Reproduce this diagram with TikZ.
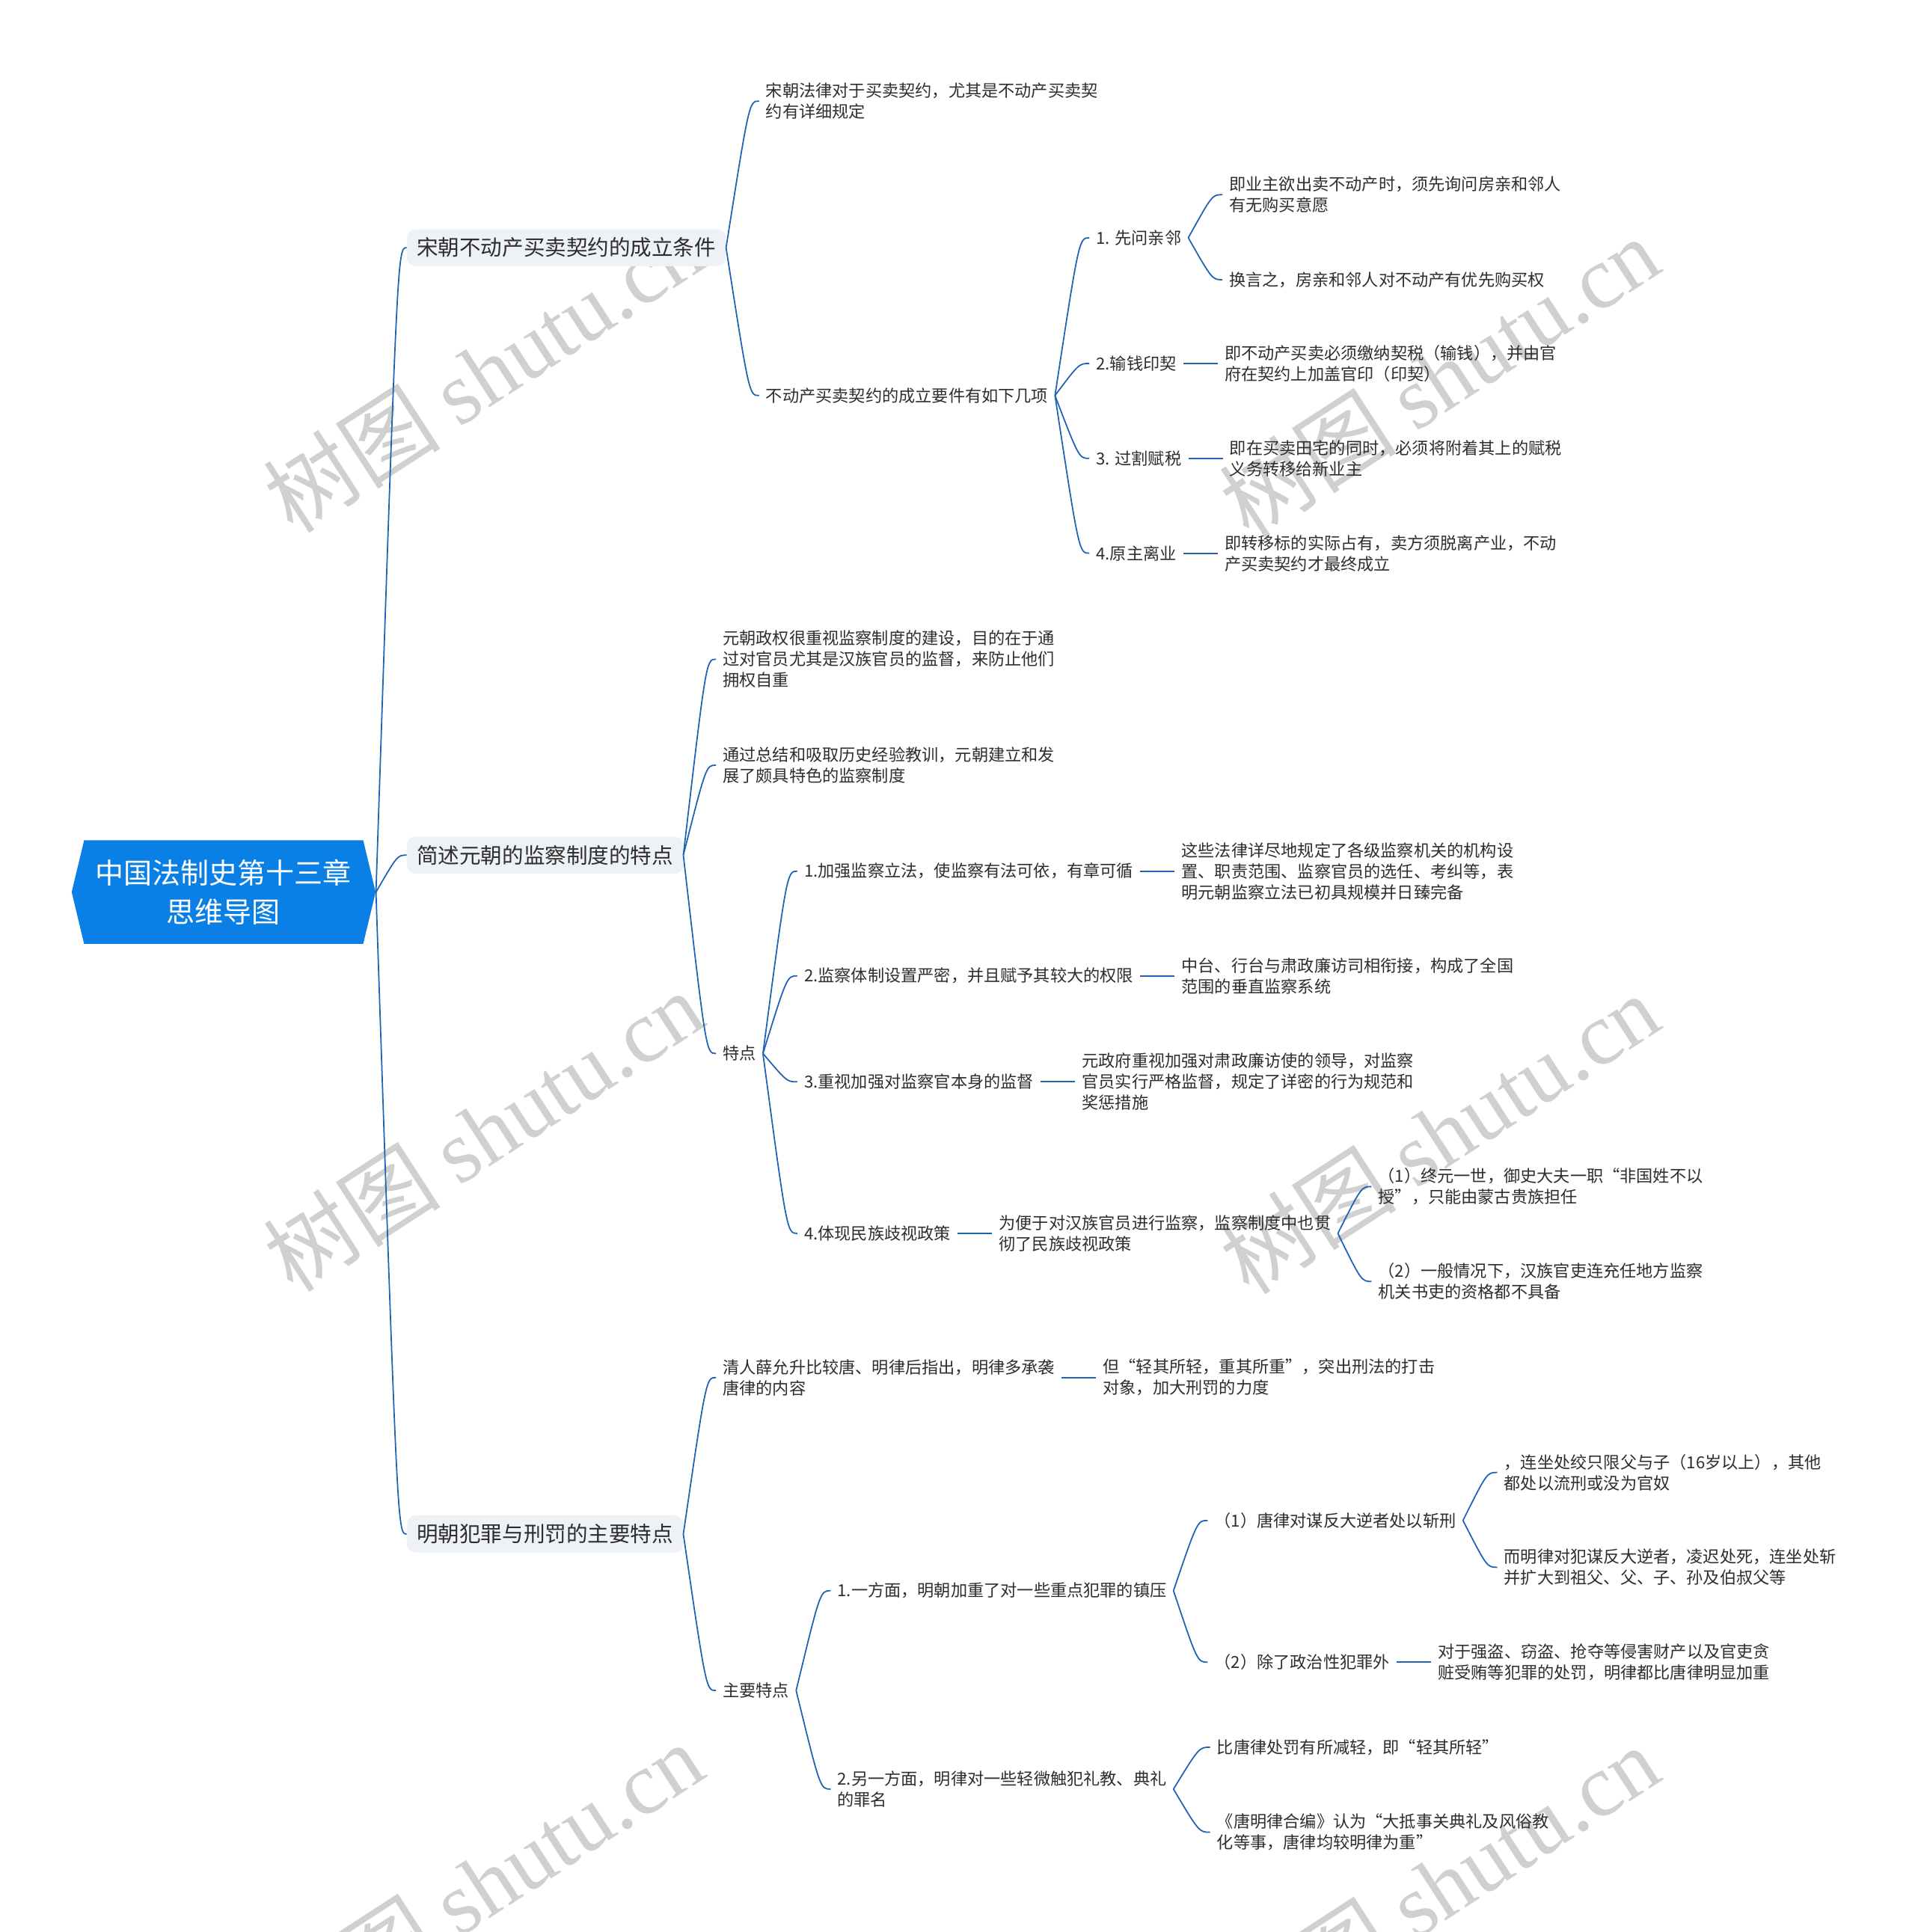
\documentclass[tikz,border=0pt]{standalone}
\usepackage{fontspec}
\setmainfont{Noto Sans CJK SC}
\newfontfamily\wmserif{Liberation Serif}
\usetikzlibrary{positioning,calc,shapes.symbols}
\definecolor{rootblue} {RGB}{ 10,128,230}
\definecolor{topicbg}  {RGB}{238,241,245}
\definecolor{linkblue} {RGB}{ 30, 98,180}
\definecolor{textdark} {RGB}{ 45, 45, 45}
\definecolor{wmgray}   {RGB}{208,208,208}

\begin{document}
\begin{tikzpicture}[
    x=0.75pt, y=-0.75pt,
    rootnode/.style={signal, signal to=east and west, signal pointer angle=153, fill=rootblue, text=white, minimum width=185pt, minimum height=63pt, inner sep=0pt, align=center, font=\fontsize{17.3}{24}\selectfont},
    topic/.style={fill=topicbg, rounded corners=5pt, anchor=west, text=textdark, minimum height=22.5pt, inner xsep=6pt, font=\fontsize{13}{16}\selectfont},
    leaf/.style={anchor=west, align=left, text=textdark, inner xsep=4pt, inner ysep=2pt, font=\fontsize{10.1}{12.75}\selectfont},
    wmark/.style={text=wmgray, rotate=33, font=\fontsize{54}{56}\selectfont},
    link/.style={draw=linkblue, line width=0.8pt},
    branch/.style={to path={let \p1=(\tikztostart), \p2=(\tikztotarget) in .. controls ({\x1+0.7*(\x2-\x1)},\y2) .. (\tikztotarget)}}
]
    \useasboundingbox (0,0) rectangle (1554,1568);

    \node[wmark] (wmA) at (392,302) {树图 {\wmserif shutu.cn}};
    \node[wmark] (wmB) at (1168,306) {树图 {\wmserif shutu.cn}};
    \node[wmark] (wmC) at (392,918) {树图 {\wmserif shutu.cn}};
    \node[wmark] (wmD) at (1168,920) {树图 {\wmserif shutu.cn}};
    \node[wmark] (wmE) at (392,1528) {树图 {\wmserif shutu.cn}};
    \node[wmark] (wmF) at (1168,1530) {树图 {\wmserif shutu.cn}};

    \node[rootnode] (root) at (181.5,724) {中国法制史第十三章\\思维导图};
    \node[topic] (song) at (330,201) {宋朝不动产买卖契约的成立条件};
    \node[topic] (yuan) at (330,694) {简述元朝的监察制度的特点};
    \node[topic] (ming) at (330,1245) {明朝犯罪与刑罚的主要特点};

    \node[leaf] (songlaw) at (616,82) {宋朝法律对于买卖契约，尤其是不动产买卖契\\约有详细规定};
    \node[leaf] (songreq) at (616,321) {不动产买卖契约的成立要件有如下几项};
    \node[leaf] (neighbor) at (884,193) {1. 先问亲邻};
    \node[leaf] (tax) at (884,295) {2.输钱印契};
    \node[leaf] (transfer) at (884,372) {3. 过割赋税};
    \node[leaf] (leave) at (884,449) {4.原主离业};
    \node[leaf] (neighborA) at (992,158) {即业主欲出卖不动产时，须先询问房亲和邻人\\有无购买意愿};
    \node[leaf] (neighborB) at (992,227) {换言之，房亲和邻人对不动产有优先购买权};
    \node[leaf] (taxtxt) [right=21pt of tax] {即不动产买卖必须缴纳契税（输钱），并由官\\府在契约上加盖官印（印契）};
    \node[leaf] (transfertxt) [right=21pt of transfer] {即在买卖田宅的同时，必须将附着其上的赋税\\义务转移给新业主};
    \node[leaf] (leavetxt) [right=21pt of leave] {即转移标的实际占有，卖方须脱离产业，不动\\产买卖契约才最终成立};

    \node[leaf] (yuanaim) at (581,535) {元朝政权很重视监察制度的建设，目的在于通\\过对官员尤其是汉族官员的监督，来防止他们\\拥权自重};
    \node[leaf] (yuanorigin) at (581,621) {通过总结和吸取历史经验教训，元朝建立和发\\展了颇具特色的监察制度};
    \node[leaf] (yuanfeat) at (581,855) {特点};
    \node[leaf] (legis) at (647,707) {1.加强监察立法，使监察有法可依，有章可循};
    \node[leaf] (system) at (647,792) {2.监察体制设置严密，并且赋予其较大的权限};
    \node[leaf] (selfsup) at (647,878) {3.重视加强对监察官本身的监督};
    \node[leaf] (ethnic) at (647,1001) {4.体现民族歧视政策};
    \node[leaf] (legistxt) [right=21pt of legis] {这些法律详尽地规定了各级监察机关的机构设\\置、职责范围、监察官员的选任、考纠等，表\\明元朝监察立法已初具规模并日臻完备};
    \node[leaf] (systemtxt) [right=21pt of system] {中台、行台与肃政廉访司相衔接，构成了全国\\范围的垂直监察系统};
    \node[leaf] (selfsuptxt) [right=21pt of selfsup] {元政府重视加强对肃政廉访使的领导，对监察\\官员实行严格监督，规定了详密的行为规范和\\奖惩措施};
    \node[leaf] (ethnictxt) [right=21pt of ethnic] {为便于对汉族官员进行监察，监察制度中也贯\\彻了民族歧视政策};
    \node[leaf] (ethnicA) at (1113,963) {（1）终元一世，御史大夫一职“非国姓不以\\授”，只能由蒙古贵族担任};
    \node[leaf] (ethnicB) at (1113,1040) {（2）一般情况下，汉族官吏连充任地方监察\\机关书吏的资格都不具备};

    \node[leaf] (mingtang) at (581,1118) {清人薛允升比较唐、明律后指出，明律多承袭\\唐律的内容};
    \node[leaf] (mingtangtxt) [right=21pt of mingtang] {但“轻其所轻，重其所重”，突出刑法的打击\\对象，加大刑罚的力度};
    \node[leaf] (mingfeat) at (581,1372) {主要特点};
    \node[leaf] (heavy) at (674,1291) {1.一方面，明朝加重了对一些重点犯罪的镇压};
    \node[leaf] (light) at (674,1452) {2.另一方面，明律对一些轻微触犯礼教、典礼\\的罪名};
    \node[leaf] (treason) at (980,1234) {（1）唐律对谋反大逆者处以斩刑};
    \node[leaf] (property) at (980,1349) {（2）除了政治性犯罪外};
    \node[leaf] (treasonA) at (1215,1195) {，连坐处绞只限父与子（16岁以上），其他\\都处以流刑或没为官奴};
    \node[leaf] (treasonB) at (1215,1272) {而明律对犯谋反大逆者，凌迟处死，连坐处斩\\并扩大到祖父、父、子、孙及伯叔父等};
    \node[leaf] (propertytxt) [right=21pt of property] {对于强盗、窃盗、抢夺等侵害财产以及官吏贪\\赃受贿等犯罪的处罚，明律都比唐律明显加重};
    \node[leaf] (lightA) at (982,1418) {比唐律处罚有所减轻，即“轻其所轻”};
    \node[leaf] (lightB) at (982,1487) {《唐明律合编》认为“大抵事关典礼及风俗教\\化等事，唐律均较明律为重”};

    \draw[link] (root.east) to[branch] (song.west);
    \draw[link] (root.east) to[branch] (yuan.west);
    \draw[link] (root.east) to[branch] (ming.west);

    \draw[link] (song.east) to[branch] (songlaw.west);
    \draw[link] (song.east) to[branch] (songreq.west);
    \draw[link] (songreq.east) to[branch] (neighbor.west);
    \draw[link] (songreq.east) to[branch] (tax.west);
    \draw[link] (songreq.east) to[branch] (transfer.west);
    \draw[link] (songreq.east) to[branch] (leave.west);
    \draw[link] (neighbor.east) to[branch] (neighborA.west);
    \draw[link] (neighbor.east) to[branch] (neighborB.west);
    \draw[link] (tax) -- (taxtxt);
    \draw[link] (transfer) -- (transfertxt);
    \draw[link] (leave) -- (leavetxt);

    \draw[link] (yuan.east) to[branch] (yuanaim.west);
    \draw[link] (yuan.east) to[branch] (yuanorigin.west);
    \draw[link] (yuan.east) to[branch] (yuanfeat.west);
    \draw[link] (yuanfeat.east) to[branch] (legis.west);
    \draw[link] (yuanfeat.east) to[branch] (system.west);
    \draw[link] (yuanfeat.east) to[branch] (selfsup.west);
    \draw[link] (yuanfeat.east) to[branch] (ethnic.west);
    \draw[link] (legis) -- (legistxt);
    \draw[link] (system) -- (systemtxt);
    \draw[link] (selfsup) -- (selfsuptxt);
    \draw[link] (ethnic) -- (ethnictxt);
    \draw[link] (ethnictxt.east) to[branch] (ethnicA.west);
    \draw[link] (ethnictxt.east) to[branch] (ethnicB.west);

    \draw[link] (ming.east) to[branch] (mingtang.west);
    \draw[link] (ming.east) to[branch] (mingfeat.west);
    \draw[link] (mingtang) -- (mingtangtxt);
    \draw[link] (mingfeat.east) to[branch] (heavy.west);
    \draw[link] (mingfeat.east) to[branch] (light.west);
    \draw[link] (heavy.east) to[branch] (treason.west);
    \draw[link] (heavy.east) to[branch] (property.west);
    \draw[link] (treason.east) to[branch] (treasonA.west);
    \draw[link] (treason.east) to[branch] (treasonB.west);
    \draw[link] (property) -- (propertytxt);
    \draw[link] (light.east) to[branch] (lightA.west);
    \draw[link] (light.east) to[branch] (lightB.west);
\end{tikzpicture}
\end{document}
